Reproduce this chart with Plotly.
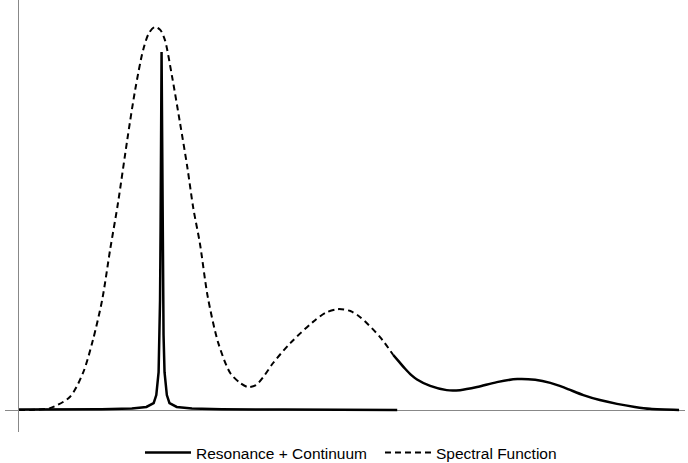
import plotly.graph_objects as go

# Spectral function (dashed part, low-energy region)
spec_x = [0.00, 0.17, 0.47, 0.77, 0.97, 1.12, 1.26, 1.38, 1.50, 1.64, 1.76, 1.88, 1.97,
          2.06, 2.14, 2.21, 2.32, 2.44, 2.55, 2.64, 2.74, 2.86, 3.02, 3.20, 3.35, 3.47,
          3.59, 3.70, 3.85, 4.11, 4.45, 4.64, 4.83, 5.02, 5.17, 5.47, 5.67]
spec_y = [0.000, 0.000, 0.005, 0.034, 0.097, 0.183, 0.288, 0.419, 0.542, 0.707, 0.838,
          0.942, 0.987, 1.003, 0.995, 0.969, 0.872, 0.751, 0.636, 0.529, 0.437, 0.296,
          0.175, 0.097, 0.071, 0.060, 0.065, 0.086, 0.123, 0.175, 0.230, 0.254, 0.264,
          0.259, 0.243, 0.191, 0.144]

# Continuum region (spectral function coincides with resonance + continuum)
cont_x = [5.67, 5.76, 5.85, 5.94, 6.03, 6.23, 6.48, 6.68, 6.94, 7.24, 7.55, 7.82, 8.05,
          8.27, 8.55, 8.80, 9.06, 9.33, 9.56, 10.00]
cont_y = [0.144, 0.126, 0.108, 0.092, 0.080, 0.063, 0.052, 0.052, 0.060, 0.073, 0.081,
          0.079, 0.071, 0.058, 0.039, 0.026, 0.016, 0.008, 0.003, 0.000]

# Narrow resonance on top of a small continuum
res_x = [0.00, 1.00, 1.25, 1.71, 1.93, 2.04, 2.08, 2.115, 2.13, 2.137, 2.145, 2.152, 2.16,
         2.168, 2.175, 2.183, 2.19, 2.205, 2.24, 2.28, 2.39, 2.62, 3.07, 4.00, 5.73]
res_y = [0.001, 0.001, 0.002, 0.004, 0.008, 0.018, 0.039, 0.099, 0.196, 0.288, 0.471,
         0.733, 0.937, 0.733, 0.471, 0.288, 0.196, 0.099, 0.039, 0.018, 0.008, 0.004,
         0.002, 0.001, 0.000]

fig = go.Figure()
fig.add_trace(go.Scatter(x=res_x, y=res_y, mode="lines", name="Resonance + Continuum",
                         line=dict(color="black", width=2.5), legendgroup="a"))
fig.add_trace(go.Scatter(x=spec_x, y=spec_y, mode="lines", name="Spectral Function",
                         line=dict(color="black", width=2, dash="6px,4px", shape="spline",
                                   smoothing=0.8)))
fig.add_trace(go.Scatter(x=cont_x, y=cont_y, mode="lines", showlegend=False,
                         line=dict(color="black", width=2.5, shape="spline", smoothing=0.8),
                         legendgroup="a"))

fig.update_layout(
    width=688, height=463,
    margin=dict(l=5, r=3, t=0, b=31, autoexpand=False),
    plot_bgcolor="white", paper_bgcolor="white",
    font=dict(family="Liberation Sans, Arial, sans-serif", size=15.5, color="black"),
    showlegend=True,
    legend=dict(orientation="h", x=0.5523, xref="container", xanchor="center",
                y=0.0216, yref="container", yanchor="middle",
                itemwidth=46, entrywidth=179, entrywidthmode="pixels",
                bgcolor="rgba(0,0,0,0)", font=dict(size=15.5)),
    xaxis=dict(range=[-0.212, 10.09], showgrid=False, showticklabels=False, ticks="",
               zeroline=True, zerolinecolor="#888888", zerolinewidth=1, showline=False),
    yaxis=dict(range=[-0.0576, 1.0733], showgrid=False, showticklabels=False, ticks="",
               zeroline=True, zerolinecolor="#888888", zerolinewidth=1, showline=False),
)

fig.write_html("out.html")
